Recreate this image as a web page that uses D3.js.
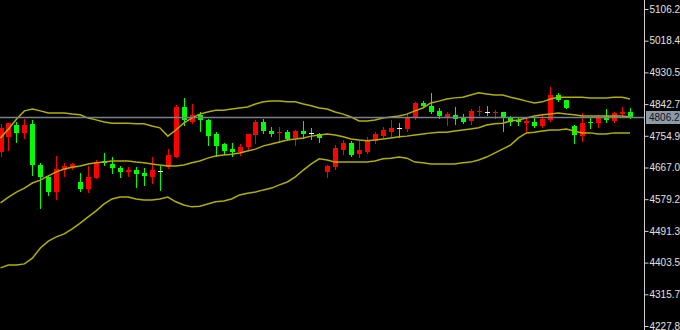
<!DOCTYPE html>
<html>
<head>
<meta charset="utf-8">
<script src="https://cdn.jsdelivr.net/npm/d3@7"></script>
<style>
  html, body { margin: 0; padding: 0; background: #000; }
  svg { display: block; }
</style>
</head>
<body>
<svg id="chart" width="680" height="330"></svg>
<script>
// candles, oldest first
var opens = [4710, 4752, 4785, 4763, 4788, 4674, 4641, 4599, 4660, 4668,
  4627, 4608, 4638, 4685, 4677, 4666, 4655, 4660, 4652, 4641,
  4657, 4668, 4696, 4835, 4793, 4813, 4799, 4760, 4732, 4718,
  4710, 4724, 4757, 4793, 4768, 4763, 4765, 4749, 4768, 4763,
  4760, 4655, 4668, 4716, 4735, 4704, 4710, 4741, 4754, 4765,
  4777, 4774, 4804, 4846, 4838, 4824, 4807, 4813, 4804, 4796,
  4821, 4821, 4818, 4821, 4807, 4799, 4790, 4793, 4782, 4799,
  4868, 4854, 4782, 4754, 4793, 4790, 4810, 4796, 4815, 4821];
var highs = [4788, 4790, 4793, 4802, 4799, 4680, 4646, 4699, 4680, 4680,
  4652, 4671, 4688, 4707, 4696, 4671, 4668, 4668, 4666, 4696,
  4671, 4718, 4840, 4860, 4843, 4821, 4802, 4765, 4735, 4735,
  4732, 4760, 4799, 4802, 4779, 4779, 4771, 4771, 4796, 4777,
  4763, 4674, 4729, 4743, 4741, 4743, 4752, 4765, 4779, 4799,
  4790, 4818, 4849, 4851, 4874, 4832, 4821, 4835, 4815, 4829,
  4838, 4838, 4826, 4821, 4810, 4804, 4807, 4807, 4813, 4890,
  4874, 4854, 4785, 4818, 4807, 4813, 4829, 4821, 4835, 4832];
var lows = [4699, 4716, 4738, 4749, 4646, 4555, 4591, 4580, 4644, 4663,
  4602, 4599, 4638, 4674, 4652, 4641, 4644, 4613, 4619, 4624,
  4605, 4666, 4696, 4785, 4790, 4768, 4729, 4699, 4704, 4699,
  4702, 4718, 4735, 4763, 4754, 4738, 4743, 4729, 4749, 4746,
  4738, 4641, 4663, 4704, 4699, 4696, 4707, 4735, 4752, 4752,
  4752, 4768, 4802, 4835, 4818, 4804, 4785, 4788, 4790, 4788,
  4813, 4813, 4804, 4768, 4785, 4785, 4765, 4779, 4779, 4796,
  4851, 4832, 4735, 4741, 4777, 4779, 4793, 4793, 4813, 4804];
var closes = [4777, 4790, 4763, 4785, 4674, 4641, 4599, 4663, 4671, 4677,
  4608, 4641, 4682, 4680, 4666, 4655, 4660, 4649, 4644, 4660,
  4657, 4702, 4835, 4799, 4813, 4799, 4754, 4727, 4713, 4710,
  4724, 4760, 4793, 4768, 4760, 4765, 4746, 4768, 4760, 4763,
  4749, 4671, 4721, 4735, 4702, 4716, 4741, 4760, 4771, 4777,
  4777, 4807, 4846, 4838, 4821, 4810, 4815, 4802, 4793, 4824,
  4824, 4821, 4821, 4807, 4793, 4793, 4796, 4782, 4802, 4868,
  4854, 4832, 4757, 4790, 4790, 4807, 4799, 4818, 4821, 4806.21];

// bollinger bands, one value per candle
var bbUpper = [4749, 4774, 4801, 4824, 4829, 4824, 4818, 4818, 4818, 4815,
  4813, 4804, 4799, 4793, 4790, 4790, 4790, 4788, 4788, 4782,
  4777, 4754, 4771, 4790, 4804, 4815, 4821, 4826, 4826, 4829,
  4832, 4835, 4843, 4849, 4851, 4851, 4849, 4849, 4843, 4838,
  4832, 4829, 4821, 4815, 4807, 4796, 4796, 4799, 4804, 4807,
  4810, 4815, 4824, 4832, 4846, 4851, 4857, 4860, 4862, 4868,
  4874, 4871, 4868, 4868, 4862, 4857, 4851, 4846, 4849, 4857,
  4862, 4862, 4862, 4862, 4860, 4860, 4860, 4862, 4862, 4857];
var bbMiddle = [4569, 4585, 4599, 4610, 4624, 4632, 4644, 4655, 4663, 4668,
  4671, 4677, 4680, 4682, 4685, 4685, 4685, 4682, 4680, 4677,
  4674, 4671, 4671, 4674, 4680, 4685, 4693, 4699, 4702, 4704,
  4707, 4713, 4718, 4727, 4732, 4738, 4743, 4746, 4749, 4754,
  4757, 4760, 4757, 4752, 4746, 4743, 4741, 4743, 4746, 4749,
  4752, 4754, 4757, 4760, 4763, 4765, 4765, 4768, 4771, 4774,
  4777, 4785, 4788, 4790, 4796, 4799, 4804, 4810, 4813, 4815,
  4818, 4815, 4813, 4810, 4810, 4810, 4810, 4810, 4810, 4807];
var bbLower = [4389, 4397, 4397, 4400, 4416, 4444, 4463, 4475, 4483, 4497,
  4513, 4530, 4547, 4566, 4580, 4585, 4585, 4580, 4577, 4577,
  4580, 4585, 4572, 4563, 4558, 4560, 4566, 4572, 4574, 4580,
  4591, 4596, 4599, 4605, 4610, 4619, 4627, 4641, 4660, 4677,
  4691, 4688, 4682, 4682, 4682, 4682, 4682, 4685, 4691, 4693,
  4696, 4693, 4682, 4680, 4677, 4677, 4677, 4677, 4680, 4682,
  4688, 4696, 4707, 4718, 4729, 4749, 4763, 4765, 4768, 4771,
  4771, 4774, 4768, 4763, 4763, 4760, 4760, 4763, 4763, 4763];

var priceTicks = [5106.27, 5018.43, 4930.59, 4842.75, 4754.91, 4667.07,
  4579.23, 4491.39, 4403.55, 4315.71, 4227.87];

var width = 680, height = 330;
var axisX = 644;

var svg = d3.select('#chart');
svg.append('rect')
  .attr('width', width)
  .attr('height', height)
  .attr('fill', '#000');

var x = d3.scaleLinear()
  .domain([0, opens.length - 1])
  .range([0.5, 630]);

var y = d3.scaleLinear()
  .domain([4227.87, 5106.27])
  .range([326, 9]);

var candles = opens.map(function(o, i) {
  return { i: i, o: o, h: highs[i], l: lows[i], c: closes[i] };
});

function candleColor(d) {
  if (d.c > d.o) return '#ff0000';
  return '#00ff00';
}

var g = svg.append('g').attr('shape-rendering', 'crispEdges');

// wicks
g.selectAll('.wick')
  .data(candles)
  .enter()
  .append('line')
  .attr('class', 'wick')
  .attr('x1', function(d) { return Math.round(x(d.i)) + 0.5; })
  .attr('x2', function(d) { return Math.round(x(d.i)) + 0.5; })
  .attr('y1', function(d) { return Math.round(y(d.h)); })
  .attr('y2', function(d) { return Math.round(y(d.l)) + 1; })
  .attr('stroke', candleColor)
  .attr('stroke-width', 1);

// bodies
g.selectAll('.body')
  .data(candles)
  .enter()
  .append('rect')
  .attr('class', 'body')
  .attr('x', function(d) { return Math.round(x(d.i)) - 2; })
  .attr('width', 5)
  .attr('y', function(d) { return Math.round(y(Math.max(d.o, d.c))); })
  .attr('height', function(d) {
    return Math.max(1, Math.round(y(Math.min(d.o, d.c))) - Math.round(y(Math.max(d.o, d.c))));
  })
  .attr('fill', function(d) {
    if (d.o === d.c) return '#ffffff';
    return candleColor(d);
  });

// bollinger bands
var line = d3.line()
  .x(function(d, i) { return x(i); })
  .y(function(d) { return y(d); });

[bbUpper, bbMiddle, bbLower].forEach(function(band) {
  svg.append('path')
    .attr('d', line(band))
    .attr('fill', 'none')
    .attr('stroke', '#b0b000')
    .attr('stroke-width', 1.5);
});

// current price line
var lastPrice = closes[closes.length - 1];
svg.append('line')
  .attr('x1', 0)
  .attr('x2', axisX)
  .attr('y1', Math.round(y(lastPrice)) + 0.5)
  .attr('y2', Math.round(y(lastPrice)) + 0.5)
  .attr('stroke', '#7a808a')
  .attr('stroke-width', 1.5);

// price axis
var axis = d3.axisRight(y)
  .tickValues(priceTicks)
  .tickSize(4)
  .tickSizeOuter(0)
  .tickPadding(1)
  .tickFormat(d3.format('.2f'));

var ag = svg.append('g')
  .attr('transform', 'translate(' + (axisX + 0.5) + ',0)')
  .call(axis);
ag.select('.domain').remove();
ag.selectAll('line').attr('stroke', '#d0d0d0');
ag.selectAll('text')
  .attr('fill', '#e0e0e0')
  .style('font-family', '"Liberation Sans", Arial, sans-serif')
  .style('font-size', '10px');

svg.append('line')
  .attr('x1', axisX + 0.5)
  .attr('x2', axisX + 0.5)
  .attr('y1', 0)
  .attr('y2', height)
  .attr('stroke', '#d0d0d0')
  .attr('stroke-width', 1);

// price label
var py = Math.round(y(lastPrice));
svg.append('rect')
  .attr('x', axisX + 2)
  .attr('y', py - 6)
  .attr('width', 40)
  .attr('height', 13)
  .attr('fill', '#8d99a6');
svg.append('text')
  .attr('x', axisX + 5)
  .attr('y', py + 1)
  .attr('dominant-baseline', 'middle')
  .attr('fill', '#10161e')
  .style('font-family', '"Liberation Sans", Arial, sans-serif')
  .style('font-size', '10px')
  .text(d3.format('.2f')(lastPrice));
</script>
</body>
</html>
